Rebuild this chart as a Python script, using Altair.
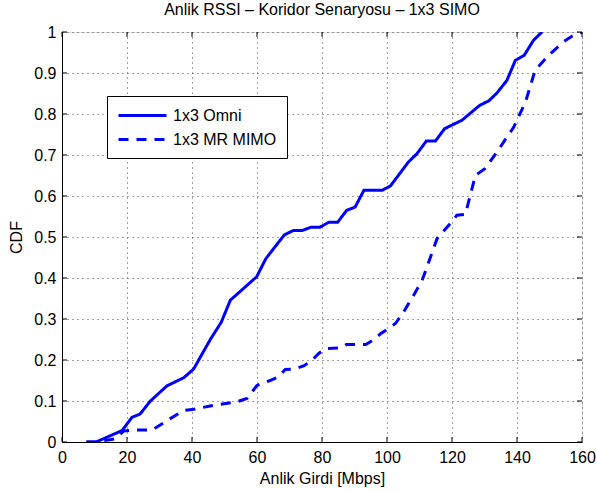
import altair as alt
import pandas as pd

# Series data
omni_x = [7.5, 10.5, 18.5, 21.5, 24.0, 27.2, 32.3, 37.5, 40.5, 45.7, 49.0, 51.8, 59.9, 62.7,
          68.4, 71.2, 74.0, 76.6, 79.4, 82.1, 84.8, 87.6, 90.2, 92.9, 98.5, 101.0, 106.6,
          109.2, 112.1, 114.9, 117.7, 123.1, 128.5, 131.3, 133.8, 136.9, 139.5, 142.2,
          145.1, 147.7]
omni_y = [0.0, 0.0, 0.028, 0.06, 0.068, 0.1, 0.137, 0.157, 0.178, 0.251, 0.292, 0.346, 0.403,
          0.447, 0.505, 0.516, 0.516, 0.524, 0.524, 0.536, 0.536, 0.565, 0.573, 0.614, 0.614,
          0.624, 0.683, 0.703, 0.734, 0.734, 0.764, 0.785, 0.821, 0.832, 0.851, 0.882, 0.931,
          0.943, 0.98, 1.0]

mimo_x = [7.5, 10.5, 16.4, 19.0, 22.0, 27.7, 33.3, 37.4, 40.0, 45.6, 53.8, 56.9, 60.0, 64.0,
          66.6, 68.7, 71.6, 74.5, 77.0, 79.0, 81.0, 86.0, 87.5, 93.5, 96.0, 98.0, 100.5, 102.6,
          105.1, 108.2, 110.8, 115.4, 119.5, 121.5, 124.1, 127.2, 130.2, 133.8, 139.0, 140.0,
          142.6, 145.6, 149.7, 154.3, 157.0, 160.0]
mimo_y = [0.0, 0.0, 0.008, 0.027, 0.029, 0.029, 0.057, 0.077, 0.079, 0.088, 0.098, 0.106,
          0.138, 0.15, 0.159, 0.177, 0.178, 0.186, 0.2, 0.216, 0.228, 0.23, 0.238, 0.238, 0.25,
          0.264, 0.277, 0.289, 0.317, 0.358, 0.394, 0.496, 0.533, 0.553, 0.555, 0.65, 0.667,
          0.707, 0.768, 0.785, 0.829, 0.907, 0.943, 0.976, 0.99, 1.0]

series_names = ["1x3 Omni", "1x3 MR MIMO"]
x_ticks = [0, 20, 40, 60, 80, 100, 120, 140, 160]
y_ticks = [0, 0.1, 0.2, 0.3, 0.4, 0.5, 0.6, 0.7, 0.8, 0.9, 1.0]

rows = []
for i, (xx, yy) in enumerate(zip(omni_x, omni_y)):
    rows.append({"x": xx, "y": yy, "series": series_names[0], "order": i})
for i, (xx, yy) in enumerate(zip(mimo_x, mimo_y)):
    rows.append({"x": xx, "y": yy, "series": series_names[1], "order": i})
df = pd.DataFrame(rows)

W, H = 520, 410
FONT = "Liberation Sans"
FS = 16

xscale = alt.Scale(domain=[0, 160], nice=False, zero=False)
yscale = alt.Scale(domain=[0, 1], nice=False, zero=False)

axis_common = dict(grid=True, gridDash=[1, 4], gridColor="#444", gridWidth=1,
                   ticks=False, labelFontSize=FS, titleFontSize=FS, labelFont=FONT,
                   titleFont=FONT, titleFontWeight="normal", domainColor="black",
                   labelColor="black", titleColor="black", labelFlush=False,
                   labelOverlap=False)

lines = alt.Chart(df).mark_line(strokeWidth=3, clip=True).encode(
    x=alt.X("x:Q", scale=xscale,
            axis=alt.Axis(values=x_ticks, title="Anlik Girdi [Mbps]", labelPadding=7,
                          titlePadding=5, **axis_common)),
    y=alt.Y("y:Q", scale=yscale,
            axis=alt.Axis(values=y_ticks, title="CDF", format="~g", labelPadding=6,
                          titlePadding=9, **axis_common)),
    color=alt.Color("series:N",
                    scale=alt.Scale(domain=series_names, range=["#0000ff", "#0000ff"]),
                    legend=alt.Legend(title=None, orient="none", legendX=45, legendY=64,
                                      symbolType="M-3,0H3", symbolSize=256,
                                      symbolStrokeWidth=3, labelFontSize=FS,
                                      labelFont=FONT, labelColor="black",
                                      labelOffset=21, padding=10, rowPadding=6,
                                      symbolOffset=16,
                                      strokeColor="black", fillColor="white",
                                      cornerRadius=0)),
    strokeDash=alt.StrokeDash("series:N",
                              scale=alt.Scale(domain=series_names, range=[[1, 0], [10, 8]]),
                              legend=alt.Legend(title=None, orient="none", legendX=45,
                                                legendY=64)),
    order="order:Q",
)

xt = pd.DataFrame({"t": x_ticks})
yt = pd.DataFrame({"t": y_ticks})

tb = alt.Chart(xt).mark_rule(color="black", strokeWidth=1).encode(
    x=alt.X("t:Q", scale=xscale), y=alt.value(H), y2=alt.value(H - 5))
tt = alt.Chart(xt).mark_rule(color="black", strokeWidth=1).encode(
    x=alt.X("t:Q", scale=xscale), y=alt.value(0), y2=alt.value(5))
tl = alt.Chart(yt).mark_rule(color="black", strokeWidth=1).encode(
    y=alt.Y("t:Q", scale=yscale), x=alt.value(0), x2=alt.value(5))
tr = alt.Chart(yt).mark_rule(color="black", strokeWidth=1).encode(
    y=alt.Y("t:Q", scale=yscale), x=alt.value(W), x2=alt.value(W - 5))

chart = alt.layer(lines, tb, tt, tl, tr).properties(
    width=W, height=H,
    title=alt.TitleParams("Anlik RSSI – Koridor Senaryosu – 1x3 SIMO", fontSize=FS,
                          font=FONT, fontWeight="normal", color="black", offset=6),
    autosize=alt.AutoSizeParams(type="none"),
    padding={"left": 62, "top": 32, "right": 15, "bottom": 49},
).configure_view(stroke="black", strokeWidth=1).configure(background="white")

chart.save("out.html", embed_options={"renderer": "svg", "actions": False})
